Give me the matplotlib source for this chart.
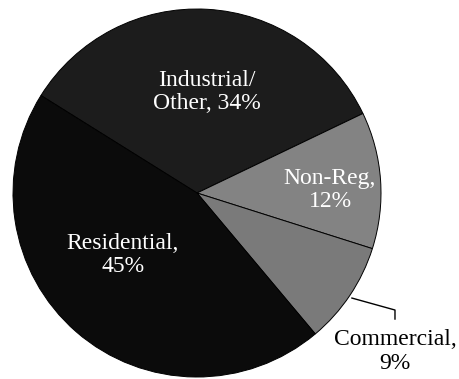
import matplotlib
matplotlib.use("Agg")
from matplotlib import pyplot as plt

plt.rcParams['font.family'] = ['Liberation Serif', 'DejaVu Serif']

# segment shares, drawn clockwise from the Industrial/Residential boundary
segments = ['Industrial/\nOther', 'Non-Reg', 'Commercial', 'Residential']
shares = [34, 12, 9, 45]
colors = ['#1c1c1c', '#838383', '#7a7a7a', '#0b0b0b']

fig = plt.figure(figsize=(4.6, 3.79), dpi=100)
ax = fig.add_axes([0, 0, 1, 1])

ax.pie(shares, colors=colors, startangle=148, counterclock=False, radius=1,
       wedgeprops={'edgecolor': 'black', 'linewidth': 0.7})

# label placement (inside for the big slices, outside with a leader for Commercial)
label_pos = [(0.054, 0.549), (0.723, 0.016), (1.076, -0.862), (-0.402, -0.337)]
label_color = ['white', 'white', 'black', 'white']
for name, val, (x, y), c in zip(segments, shares, label_pos, label_color):
    if name.startswith('Industrial'):
        txt = 'Industrial/\nOther, %d%%' % val
    else:
        txt = '%s,\n%d%%' % (name, val)
    ax.text(x, y, txt, ha='center', va='center', color=c, fontsize=17,
            linespacing=1.15)

# leader line to the Commercial label
ax.plot([0.842, 1.076, 1.076], [-0.571, -0.636, -0.685], color='black', lw=1.0)

# pixel-matched limits: center at (197, 193) px, radius 184 px
ax.set_xlim(-197 / 184, (460 - 197) / 184)
ax.set_ylim(-(379 - 193) / 184, 193 / 184)
ax.set_aspect('auto')
ax.axis('off')

fig.savefig('out.png', dpi=100)
